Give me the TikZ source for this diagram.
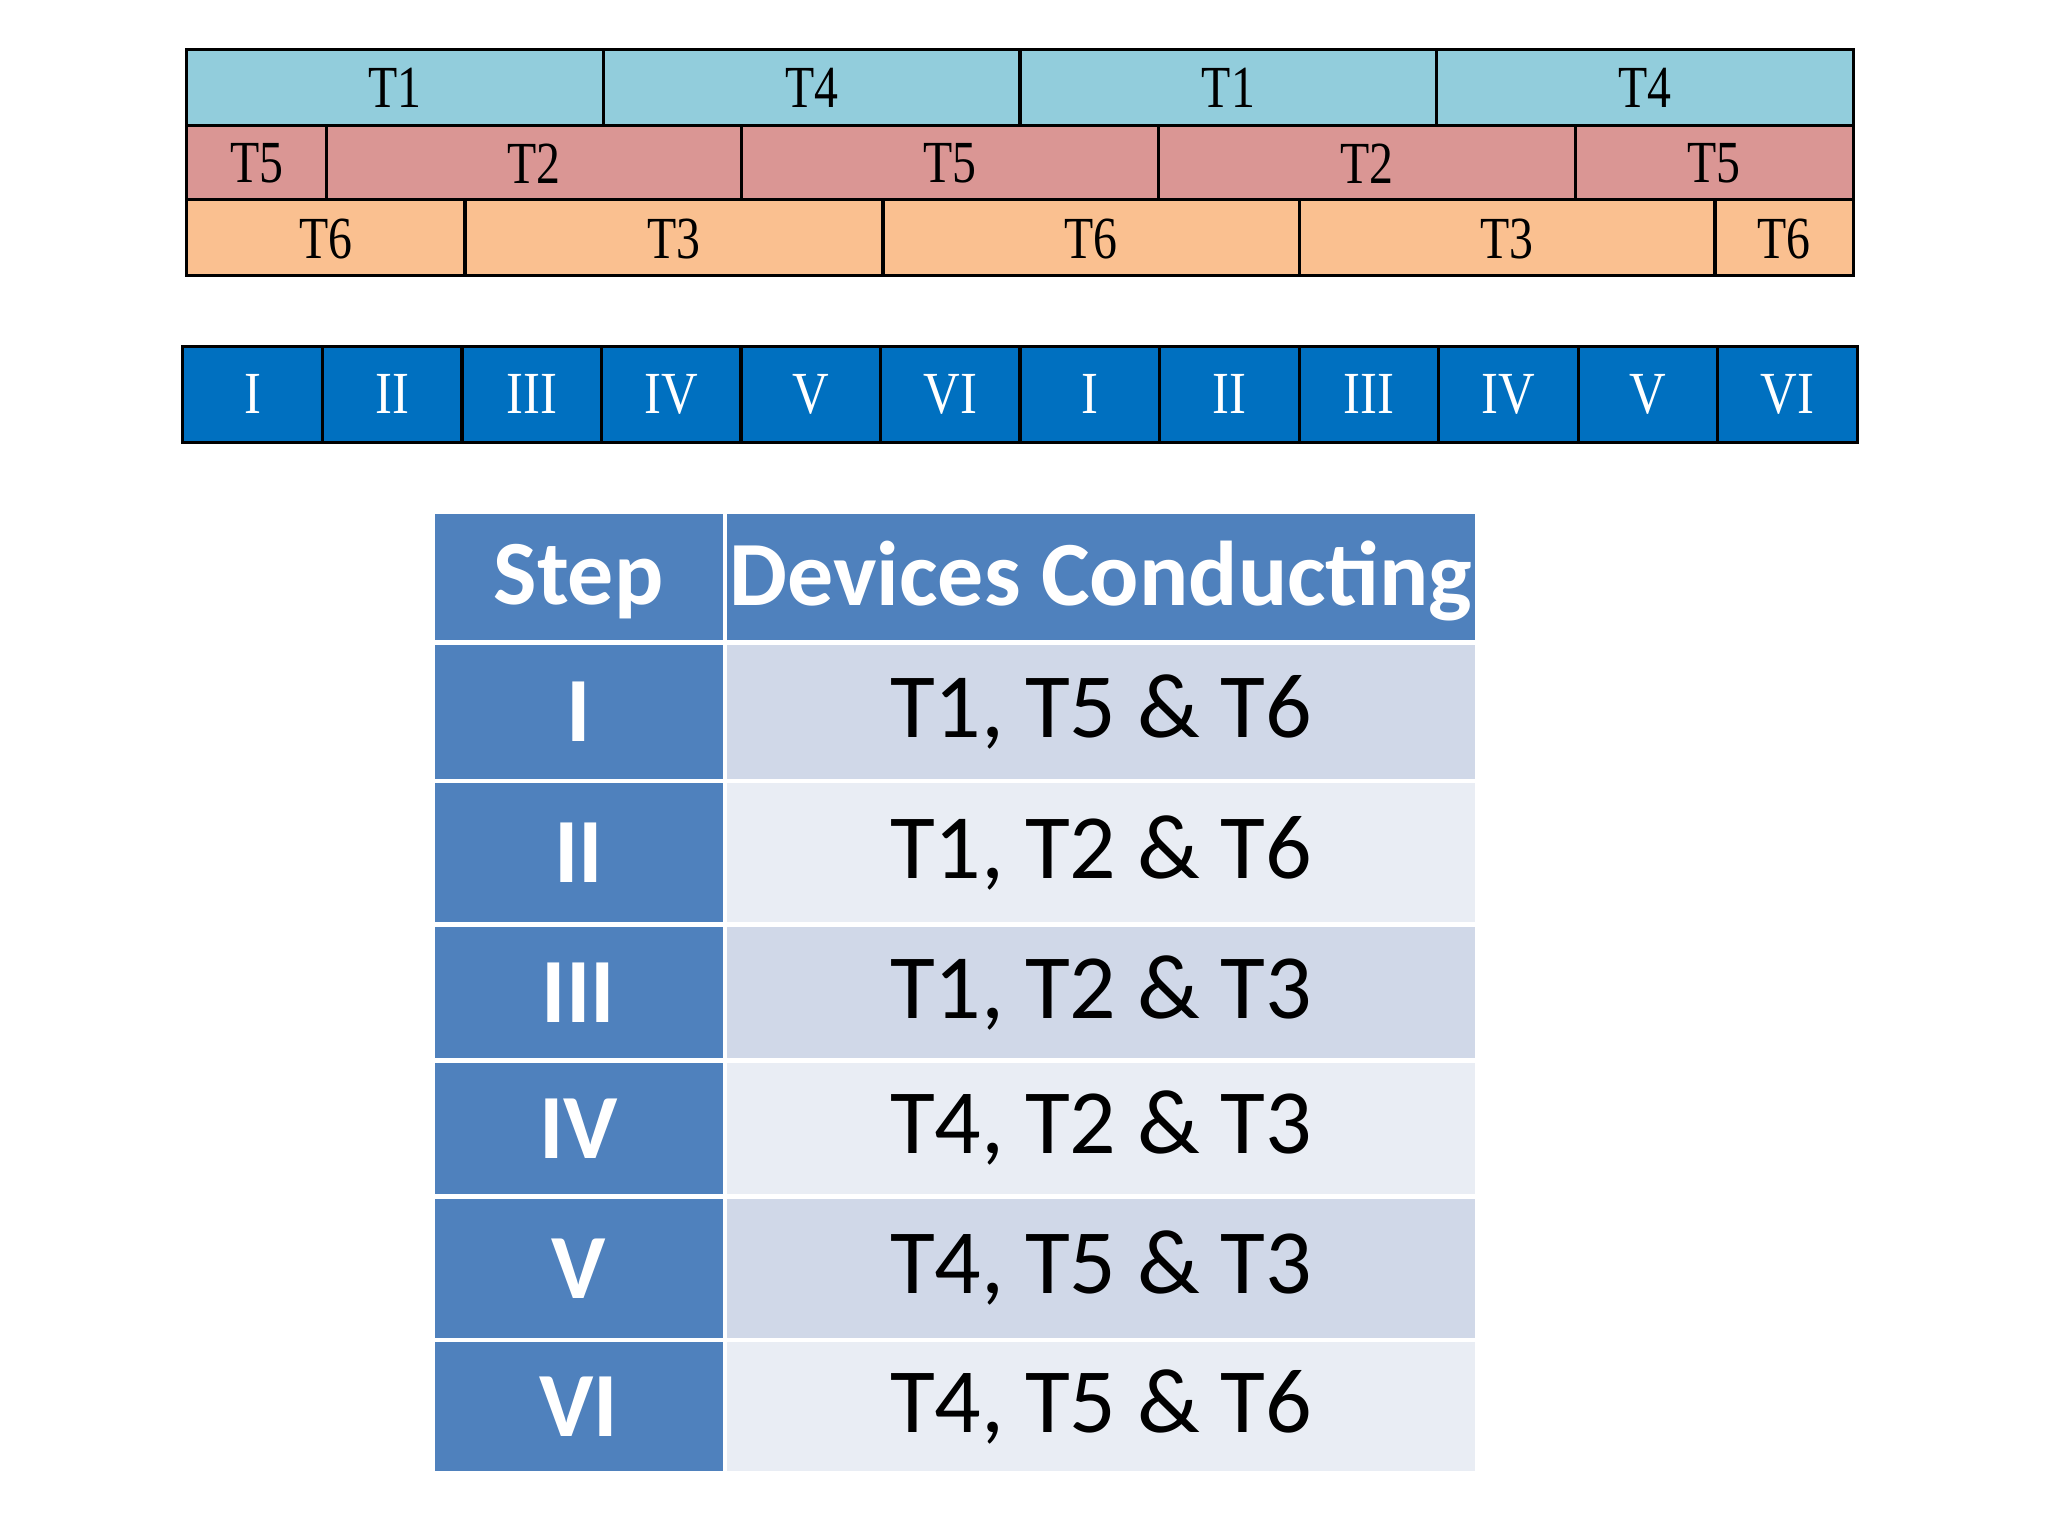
\documentclass[tikz,border=0pt]{standalone}
\usepackage{fontspec}
\setmainfont{Liberation Serif}
\newfontfamily\carfont{Carlito}
\definecolor{rA}{HTML}{92CDDC}
\definecolor{rB}{HTML}{DA9694}
\definecolor{rC}{HTML}{FAC090}
\definecolor{stp}{HTML}{0070C0}
\definecolor{hd}{HTML}{4F81BD}
\definecolor{lA}{HTML}{D0D8E8}
\definecolor{lB}{HTML}{E9EDF4}
\begin{document}
\begin{tikzpicture}[x=0.01cm,y=-0.01cm,
  seg/.style={draw=black,line width=0.7pt,font=\fontsize{13}{13}\selectfont,text=black},
  stepcell/.style={draw=black,line width=0.7pt,fill=stp,text=white,font=\fontsize{13}{13}\selectfont},
  cell/.style={draw=white,line width=1pt,font=\carfont\fontsize{20}{20}\selectfont}]
\useasboundingbox (0,0) rectangle (1568,1176);
% row 1
\foreach \a/\b/\t [count=\i] in {143/462/T1,462/781/T4,781/1100/T1,1100/1419/T4}
  {\path[seg,fill=rA] (\a,38) rectangle (\b,96); \node[seg,draw=none,xscale=0.8] (r1\i) at ({(\a+\b)/2},67) {\t};}
\foreach \a/\b/\t [count=\i] in {143/250/T5,250/568/T2,568/887/T5,887/1206/T2,1206/1419/T5}
  {\path[seg,fill=rB] (\a,96) rectangle (\b,153); \node[seg,draw=none,xscale=0.8] (r2\i) at ({(\a+\b)/2},125) {\t};}
\foreach \a/\b/\t [count=\i] in {143/356/T6,356/676/T3,676/995/T6,995/1313/T3,1313/1419/T6}
  {\path[seg,fill=rC] (\a,153) rectangle (\b,211); \node[seg,draw=none,xscale=0.8] (r3\i) at ({(\a+\b)/2},183) {\t};}
% step bar
\foreach \t [count=\i] in {I,II,III,IV,V,VI,I,II,III,IV,V,VI}
  {\pgfmathsetmacro\xa{140+(\i-1)*106.83}\pgfmathsetmacro\xb{140+\i*106.83}
   \path[stepcell] (\xa,265) rectangle (\xb,339);
   \node[text=white,font=\fontsize{13}{13}\selectfont,xscale=0.85] (s\i) at ({(\xa+\xb)/2},302) {\t};}
% table
\path[cell,fill=hd] (331,392) rectangle (555,492);
\path[cell,fill=hd] (555,392) rectangle (1131,492);
\node[text=white,font=\carfont\bfseries\fontsize{20}{20}\selectfont] (h1) at (443,445) {Step};
\node[text=white,font=\carfont\bfseries\fontsize{20}{20}\selectfont] (h2) at (843,445) {Devices Conducting};
\foreach \ya/\yb/\s/\d/\c [count=\i] in {492/598/I/{T1, T5 \& T6}/lA,598/708/II/{T1, T2 \& T6}/lB,708/812/III/{T1, T2 \& T3}/lA,812/916/IV/{T4, T2 \& T3}/lB,916/1026/V/{T4, T5 \& T3}/lA,1026/1128/VI/{T4, T5 \& T6}/lB}
  {\path[cell,fill=hd] (331,\ya) rectangle (555,\yb);
   \path[cell,fill=\c] (555,\ya) rectangle (1131,\yb);
   \node[text=white,font=\carfont\bfseries\fontsize{20}{20}\selectfont] (k\i) at (443,{(\ya+\yb)/2}) {\s};
   \node[text=black,font=\carfont\fontsize{20}{20}\selectfont] (d\i) at (843,{(\ya+\yb)/2}) {\d};}
\end{tikzpicture}
\end{document}
